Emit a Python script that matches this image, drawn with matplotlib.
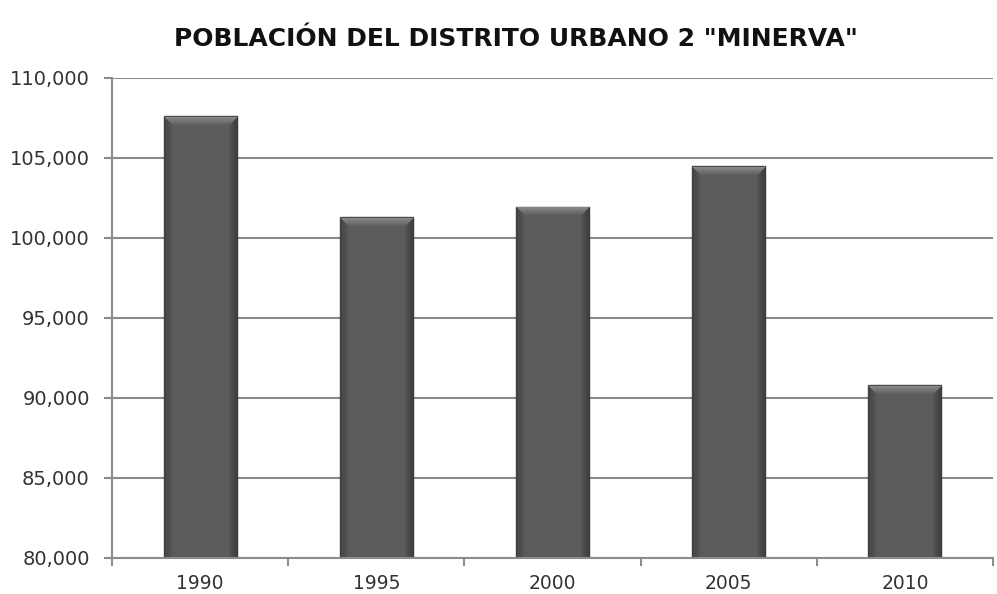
import matplotlib
matplotlib.use("Agg")
import matplotlib.pyplot as plt
import numpy as np
from matplotlib.ticker import FuncFormatter, FixedLocator

years = ["1990", "1995", "2000", "2005", "2010"]
population = [107600, 101300, 101950, 104500, 90800]
title = 'POBLACIÓN DEL DISTRITO URBANO 2 "MINERVA"'
y_min, y_max, y_step = 80000, 110000, 5000

fig = plt.figure(figsize=(9.97, 5.94), dpi=100)
ax = fig.add_axes([0.1124, 0.0611, 0.8836, 0.808])

x = np.arange(len(years))
ax.set_xlim(-0.5, len(years) - 0.5)
ax.set_ylim(y_min, y_max)

heights = [p - y_min for p in population]
bars = ax.bar(x, heights, bottom=y_min, width=0.415, color="#585858",
              edgecolor="#3a3a3a", linewidth=1.0, zorder=3)

fig.canvas.draw()
for b in bars:
    bx, by = b.get_x(), b.get_y()
    w, h = b.get_width(), b.get_height()
    p0 = ax.transData.transform((bx, by))
    p1 = ax.transData.transform((bx + w, by + h))
    nc = max(int(round(p1[0] - p0[0])), 4)
    nr = max(int(round(p1[1] - p0[1])), 4)
    img = np.full((nr, nc), 0.36)
    ramp = 9
    for i in range(ramp):
        v = 0.26 + 0.10 * i / ramp
        img[:, i] = np.minimum(img[:, i], v)
        img[:, nc - 1 - i] = np.minimum(img[:, nc - 1 - i], v - 0.02)
    for i in range(ramp):
        v = 0.55 - 0.19 * i / ramp
        img[i, i:nc - i] = v
    img[0, :] = 0.30
    im = ax.imshow(img, cmap="gray", vmin=0, vmax=1, aspect="auto",
                   extent=[bx, bx + w, by, by + h], origin="upper",
                   interpolation="nearest", zorder=3.5)
    im.set_clip_path(b)
ax.set_xlim(-0.5, len(years) - 0.5)
ax.set_ylim(y_min, y_max)

ax.set_yticks(np.arange(y_min, y_max + 1, y_step))
ax.yaxis.set_major_formatter(FuncFormatter(lambda v, p: f"{int(v):,}"))
ax.set_xticks(x)
ax.set_xticklabels(years)
ax.xaxis.set_minor_locator(FixedLocator(np.arange(-0.5, len(years), 1.0)))

ax.grid(axis="y", color="#8c8c8c", linewidth=1.5, zorder=0)
ax.set_axisbelow(True)
for s in ["top", "right"]:
    ax.spines[s].set_visible(False)
for s in ["left", "bottom"]:
    ax.spines[s].set_color("#8c8c8c")
    ax.spines[s].set_linewidth(1.5)
    ax.spines[s].set_zorder(4)

ax.tick_params(axis="y", which="major", length=6, width=1.5, color="#8c8c8c",
               labelsize=14, labelcolor="#333333", pad=10)
ax.tick_params(axis="x", which="major", length=0, labelsize=13.5, labelcolor="#333333", pad=12)
ax.tick_params(axis="x", which="minor", length=6, width=1.5, color="#8c8c8c")

fig.text(0.517, 0.934, title, ha="center", va="center", fontsize=18,
         fontweight="bold", color="#111111")

fig.savefig("out.png", dpi=100)
